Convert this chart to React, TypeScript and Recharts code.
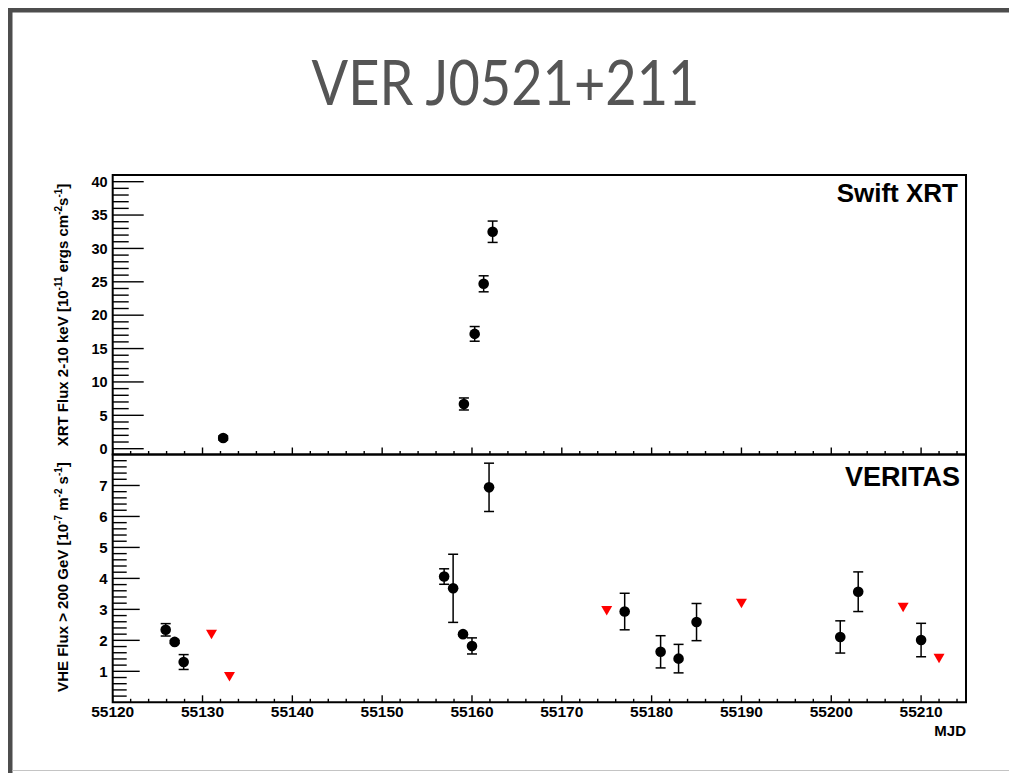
import React from 'react';
import { ScatterChart, Scatter, XAxis, YAxis, ErrorBar, ReferenceArea } from 'recharts';

// ---- Data ----
const xrtMjd = [55132.3, 55159.1, 55160.3, 55161.3, 55162.3];
const xrtFlux = [1.6, 6.7, 17.2, 24.7, 32.5];
const xrtErr = [0.3, 0.9, 1.1, 1.2, 1.6];

const vheMjd = [55125.9, 55126.9, 55127.9, 55156.9, 55157.9, 55159.0, 55160.0, 55161.9, 55177.0, 55181.0, 55183.0, 55185.0, 55201.0, 55203.0, 55210.0];
const vheFlux = [2.34, 1.95, 1.3, 4.06, 3.68, 2.2, 1.82, 6.94, 2.93, 1.63, 1.41, 2.59, 2.11, 3.57, 2.01];
const vheErr = [0.2, 0.05, 0.24, 0.25, 1.1, 0.05, 0.26, 0.78, 0.59, 0.52, 0.46, 0.6, 0.52, 0.64, 0.54];

const ulMjd = [55131, 55133, 55175, 55190, 55208, 55212];
const ulFlux = [2.2, 0.83, 2.96, 3.2, 3.07, 1.42];

// ---- Axes ----
const xDomain = [55120, 55215];
const xMajorTicks = [55120, 55130, 55140, 55150, 55160, 55170, 55180, 55190, 55200, 55210];
const xAllTicks: number[] = [];
for (let v = 55120; v <= 55214; v += 2) xAllTicks.push(v);

const xrtDomain = [-0.87, 41];
const xrtMajorTicks = [0, 5, 10, 15, 20, 25, 30, 35, 40];
const xrtAllTicks: number[] = [];
for (let v = 0; v <= 41; v += 1) xrtAllTicks.push(v);

const vheDomain = [0, 8];
const vheMajorTicks = [1, 2, 3, 4, 5, 6, 7];
const vheAllTicks: number[] = [];
for (let i = 1; i < 40; i += 1) vheAllTicks.push(Math.round(i * 2) / 10);

const xrtData = xrtMjd.map((x, i) => ({ x, y: xrtFlux[i], err: xrtErr[i] }));
const vheData = vheMjd.map((x, i) => ({ x, y: vheFlux[i], err: vheErr[i] }));
const ulData = ulMjd.map((x, i) => ({ x, y: ulFlux[i] }));

const FONT = '"Liberation Sans", Arial, Helvetica, sans-serif';
const W = 1009;
const H = 773;
const PLOT_LEFT = 112.7;
const PLOT_RIGHT = 966;
const TOP1 = 175;
const MID = 454.5;
const BOT2 = 702.3;
const XAX_H = 30;

const isIn = (arr: number[], v: number) => arr.some((m) => Math.abs(m - v) < 1e-6);

const makeYTick = (majors: number[], majorLen: number, minorLen: number, fontSize: number) =>
  (props: any) => {
    const { x, y, payload } = props;
    const v = payload.value;
    const major = isIn(majors, v);
    return (
      <g>
        <line x1={x} x2={x + (major ? majorLen : minorLen)} y1={y} y2={y} stroke="#000" strokeWidth={1.4} />
        {major && (
          <text x={x - 5} y={y} dy="0.36em" textAnchor="end" fontFamily={FONT} fontWeight={700} fontSize={fontSize} fill="#000">
            {v}
          </text>
        )}
      </g>
    );
  };

const makeXTick = (showLabels: boolean) => (props: any) => {
  const { x, y, payload } = props;
  const v = payload.value;
  const major = isIn(xMajorTicks, v);
  return (
    <g>
      <line x1={x} x2={x} y1={y} y2={y - (major ? 7 : 3.5)} stroke="#000" strokeWidth={1.4} />
      {showLabels && major && (
        <text x={x} y={y + 14.5} textAnchor="middle" fontFamily={FONT} fontWeight={700} fontSize={15.5} fill="#000">
          {v}
        </text>
      )}
    </g>
  );
};

const Dot = (props: any) => {
  const { cx, cy } = props;
  if (cx == null || cy == null) return null;
  return <circle cx={cx} cy={cy} r={5.3} fill="#000" />;
};

const Tri = (props: any) => {
  const { cx, cy } = props;
  if (cx == null || cy == null) return null;
  return <path d={`M${cx - 5.5},${cy - 4.5} L${cx + 5.5},${cy - 4.5} L${cx},${cy + 5} Z`} fill="#ff0000" />;
};

export default function App() {
  return (
    <div style={{ position: 'absolute', left: 0, top: 0, width: W, height: H, background: '#fff', overflow: 'hidden' }}>
      {/* Top panel: Swift XRT */}
      <div style={{ position: 'absolute', left: 0, top: 0 }}>
        <ScatterChart width={W} height={H} margin={{ top: TOP1, right: W - PLOT_RIGHT, bottom: H - MID - XAX_H, left: 0 }}>
          <XAxis
            type="number"
            dataKey="x"
            domain={xDomain}
            ticks={xAllTicks}
            interval={0}
            allowDataOverflow
            height={XAX_H}
            tickSize={0}
            tickMargin={0}
            tickLine={false}
            axisLine={false}
            tick={makeXTick(false)}
          />
          <YAxis
            type="number"
            dataKey="y"
            domain={xrtDomain}
            ticks={xrtAllTicks}
            interval={0}
            allowDataOverflow
            width={PLOT_LEFT}
            tickSize={0}
            tickMargin={0}
            tickLine={false}
            axisLine={false}
            tick={makeYTick(xrtMajorTicks, 31, 16, 14.5)}
          />
          <ReferenceArea x1={xDomain[0]} x2={xDomain[1]} y1={xrtDomain[0]} y2={xrtDomain[1]} fill="none" stroke="#000" strokeWidth={2} ifOverflow="visible" />
          <Scatter data={xrtData} isAnimationActive={false} shape={<Dot />}>
            <ErrorBar dataKey="err" direction="y" width={5} stroke="#000" strokeWidth={1.5} />
          </Scatter>
        </ScatterChart>
      </div>

      {/* Bottom panel: VERITAS */}
      <div style={{ position: 'absolute', left: 0, top: 0 }}>
        <ScatterChart width={W} height={H} margin={{ top: MID, right: W - PLOT_RIGHT, bottom: H - BOT2 - XAX_H, left: 0 }}>
          <XAxis
            type="number"
            dataKey="x"
            domain={xDomain}
            ticks={xAllTicks}
            interval={0}
            allowDataOverflow
            height={XAX_H}
            tickSize={0}
            tickMargin={0}
            tickLine={false}
            axisLine={false}
            tick={makeXTick(true)}
          />
          <YAxis
            type="number"
            dataKey="y"
            domain={vheDomain}
            ticks={vheAllTicks}
            interval={0}
            allowDataOverflow
            width={PLOT_LEFT}
            tickSize={0}
            tickMargin={0}
            tickLine={false}
            axisLine={false}
            tick={makeYTick(vheMajorTicks, 27, 14, 15)}
          />
          <ReferenceArea x1={xDomain[0]} x2={xDomain[1]} y1={vheDomain[0]} y2={vheDomain[1]} fill="none" stroke="#000" strokeWidth={2} ifOverflow="visible" />
          <Scatter data={vheData} isAnimationActive={false} shape={<Dot />}>
            <ErrorBar dataKey="err" direction="y" width={5} stroke="#000" strokeWidth={1.5} />
          </Scatter>
          <Scatter data={ulData} isAnimationActive={false} shape={<Tri />} />
        </ScatterChart>
      </div>

      {/* Annotations and slide frame */}
      <svg width={W} height={H} style={{ position: 'absolute', left: 0, top: 0, pointerEvents: 'none' }}>
        <rect x={8} y={8} width={W - 8} height={4.5} fill="#4d4d4d" />
        <rect x={8} y={8} width={4.5} height={H - 8} fill="#4d4d4d" />
        <line x1={12.5} x2={W} y1={770.5} y2={770.5} stroke="#c4c4c4" strokeWidth={1} />

        <text x={505.5} y={105} textAnchor="middle" fontFamily='Lato, "Open Sans", sans-serif' fontSize={61} fill="#555" textLength={388} lengthAdjust="spacingAndGlyphs">
          VER J0521+211
        </text>

        <text x={958} y={202} textAnchor="end" fontFamily={FONT} fontWeight={700} fontSize={26} fill="#000">
          Swift XRT
        </text>
        <text x={960} y={486} textAnchor="end" fontFamily={FONT} fontWeight={700} fontSize={27} fill="#000">
          VERITAS
        </text>
        <text x={966} y={736} textAnchor="end" fontFamily={FONT} fontWeight={700} fontSize={15} fill="#000">
          MJD
        </text>

        <text transform="translate(68,315) rotate(-90)" textAnchor="middle" fontFamily={FONT} fontWeight={700} fontSize={15} fill="#000">
          XRT Flux 2-10 keV [10<tspan dy={-6} fontSize={10}>-11</tspan>
          <tspan dy={6}> ergs cm</tspan>
          <tspan dy={-6} fontSize={10}>-2</tspan>
          <tspan dy={6}>s</tspan>
          <tspan dy={-6} fontSize={10}>-1</tspan>
          <tspan dy={6}>]</tspan>
        </text>
        <text transform="translate(68,577) rotate(-90)" textAnchor="middle" fontFamily={FONT} fontWeight={700} fontSize={15} fill="#000">
          VHE Flux &gt; 200 GeV [10<tspan dy={-6} fontSize={10}>-7</tspan>
          <tspan dy={6}> m</tspan>
          <tspan dy={-6} fontSize={10}>-2</tspan>
          <tspan dy={6}> s</tspan>
          <tspan dy={-6} fontSize={10}>-1</tspan>
          <tspan dy={6}>]</tspan>
        </text>
      </svg>
    </div>
  );
}
